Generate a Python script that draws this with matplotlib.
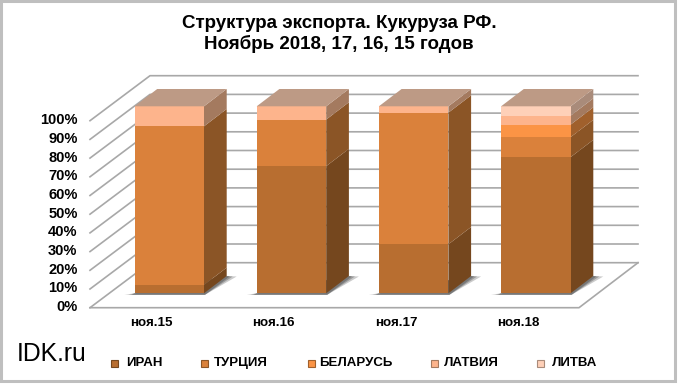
import numpy as np
import matplotlib
matplotlib.use('Agg')
import matplotlib.pyplot as plt
from matplotlib.patches import Polygon, Rectangle
from matplotlib.font_manager import findfont, FontProperties

# Data
months = ['ноя.15', 'ноя.16', 'ноя.17', 'ноя.18']
iran = [4.5, 68.0, 26.2, 72.8]
turkey = [84.8, 24.9, 70.4, 10.7]
belarus = [0.0, 0.0, 0.0, 6.7]
latvia = [10.7, 7.1, 3.4, 4.8]
lithuania = [0.0, 0.0, 0.0, 5.0]
series_names = ['ИРАН', 'ТУРЦИЯ', 'БЕЛАРУСЬ', 'ЛАТВИЯ', 'ЛИТВА']
percent_ticks = list(range(0, 101, 10))

# Fake 3D geometry, in pixels
px_per_pct = 1.87
front_x0, first_bar, bar_step, bar_w = 90, 134.5, 122.2, 69.5
base_y = 293.3
bar_dx, bar_dy = 22.7, -17.3
floor_front_y, wall_y = 307.7, 262.7
wall_x0, wall_x1, floor_x1 = 150, 638, 579

front_cols = ['#b86e30', '#da813b', '#fb9445', '#fdb48c', '#fed0b8']
side_cols = ['#75471e', '#8b5526', '#a0602c', '#a47a5f', '#a98b7a']
top_col = '#bd9a85'
grid_col = '#a8a8a8'

narrow = 'Liberation Sans Narrow'
try:
    findfont(FontProperties(family=narrow), fallback_to_default=False)
    legend_family = narrow
except ValueError:
    legend_family = 'Liberation Sans'

fig = plt.figure(figsize=(6.8, 3.85), dpi=100)
ax = fig.add_axes([0, 0, 1, 1])
ax.set_xlim(0, 680)
ax.set_ylim(385, 0)
ax.axis('off')

# outer frame
ax.add_patch(Rectangle((1, 1), 674, 380, fc='white', ec='#bfbfbf', lw=2.2))

# walls and floor
for p in percent_ticks:
    dy = p * px_per_pct
    y_f, y_b = floor_front_y - dy, wall_y - dy
    ax.plot([front_x0, wall_x0, wall_x1], [y_f, y_b, y_b], color=grid_col, lw=1.2, zorder=1)
    ax.text(77.5, y_f - 0.5, f'{p}%', ha='right', va='center', fontsize=10.5,
            fontweight='bold', family='Liberation Sans', color='black')
ax.plot([front_x0, floor_x1, wall_x1], [floor_front_y, floor_front_y, wall_y],
        color=grid_col, lw=1.2, zorder=1)

# bars
stack = np.array([iran, turkey, belarus, latvia, lithuania])
for i, month in enumerate(months):
    x0 = first_bar + i * bar_step
    x1 = x0 + bar_w
    # soft floor shadow, wider and paler layers first
    for spread, alpha in [(10, 0.3), (6, 0.4), (3, 0.5)]:
        ax.add_patch(Polygon([(x0 - spread, base_y + 1.5), (x1 + 1, base_y + 1.5),
                              (x1 + bar_dx + spread, base_y + bar_dy + 0.5),
                              (x1 + bar_dx, base_y + bar_dy), (x0, base_y)],
                             fc='#555555', ec='none', alpha=alpha, zorder=2))
    bottom = 0.0
    for s in range(len(series_names)):
        val = stack[s, i]
        if val <= 0:
            continue
        y0 = base_y - bottom * px_per_pct
        y1 = base_y - (bottom + val) * px_per_pct
        ax.add_patch(Polygon([(x1, y0), (x1 + bar_dx, y0 + bar_dy),
                              (x1 + bar_dx, y1 + bar_dy), (x1, y1)],
                             fc=side_cols[s], ec='none', zorder=3))
        ax.add_patch(Rectangle((x0, y1), bar_w, y0 - y1, fc=front_cols[s], ec='none', zorder=3))
        bottom += val
    y_top = base_y - bottom * px_per_pct
    ax.add_patch(Polygon([(x0, y_top), (x1, y_top), (x1 + bar_dx, y_top + bar_dy),
                          (x0 + bar_dx, y_top + bar_dy)], fc=top_col, ec='none', zorder=3))
    ax.text((x0 + x1) / 2 - 17.7, 323, month, ha='center', va='center', fontsize=9.6,
            fontweight='bold', family=legend_family, color='black')

# title
ax.text(339, 23, 'Структура экспорта. Кукуруза РФ.', ha='center', va='center', fontsize=13.5,
        fontweight='bold', family='Liberation Sans', color='black')
ax.text(339, 44, 'Ноябрь 2018, 17, 16, 15 годов', ha='center', va='center', fontsize=13.5,
        fontweight='bold', family='Liberation Sans', color='black')

# watermark
ax.text(17, 354, 'IDK.ru', ha='left', va='center', fontsize=17.8, family=legend_family, color='black')

# legend
legend_x = [111, 201, 308, 431, 537]
text_x = [126, 214, 319, 444, 552]
for name, lx, tx, col, side in zip(series_names, legend_x, text_x, front_cols, side_cols):
    ax.add_patch(Rectangle((lx, 360), 7, 7, fc=col, ec=side, lw=0.8))
    ax.text(tx, 363, name, ha='left', va='center', fontsize=9.5,
            fontweight='bold', family=legend_family, color='black')

fig.savefig('out.png', dpi=100)
